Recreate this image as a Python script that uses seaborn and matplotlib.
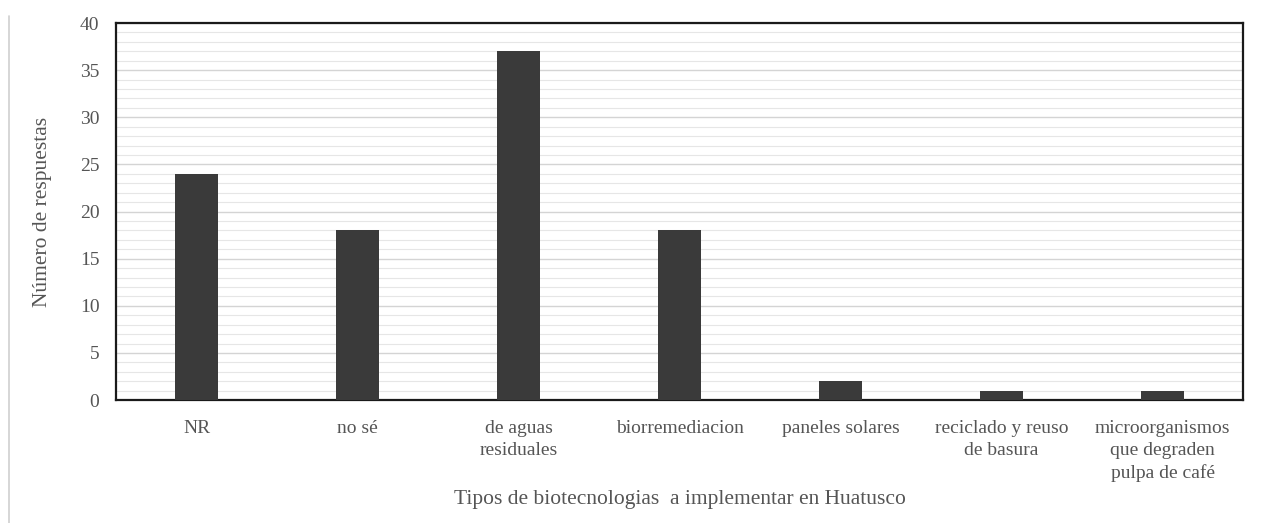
import numpy as np
import pandas as pd
import seaborn as sns
import matplotlib.pyplot as plt
from matplotlib.lines import Line2D
from matplotlib.ticker import MultipleLocator

categorias = ['NR', 'no sé', 'de aguas\nresiduales', 'biorremediacion',
              'paneles solares', 'reciclado y reuso\nde basura',
              'microorganismos\nque degraden\npulpa de café']
respuestas = [24, 18, 37, 18, 2, 1, 1]

sns.set_theme(style='white')
plt.rcParams['font.family'] = ['Liberation Serif', 'DejaVu Serif']

df = pd.DataFrame({'Tipo': categorias, 'Respuestas': respuestas})

fig, ax = plt.subplots(figsize=(12.64, 5.23), dpi=100)
fig.subplots_adjust(left=0.0918, right=0.9834, top=0.956, bottom=0.235)

sns.barplot(data=df, x='Tipo', y='Respuestas', color='#3a3a3a',
            width=0.27, saturation=1, linewidth=0, ax=ax, zorder=3)

ax.set_ylim(0, 40)
ax.yaxis.set_major_locator(MultipleLocator(5))
ax.yaxis.set_minor_locator(MultipleLocator(1))
ax.grid(which='major', axis='y', color='#d4d4d4', linewidth=1.0, zorder=0)
ax.grid(which='minor', axis='y', color='#e6e6e6', linewidth=0.8, zorder=0)
ax.set_axisbelow(True)

for s in ax.spines.values():
    s.set_visible(True)
    s.set_color('#1a1a1a')
    s.set_linewidth(1.6)

ax.tick_params(axis='both', which='both', length=0, labelsize=14,
               labelcolor='#555555')
ax.tick_params(axis='x', pad=14)
ax.tick_params(axis='y', pad=12)
for lab in ax.get_xticklabels():
    lab.set_linespacing(1.4)
ax.set_xlabel('Tipos de biotecnologias  a implementar en Huatusco',
              fontsize=15.5, color='#555555', labelpad=6)
ax.set_ylabel('Número de respuestas', fontsize=15.5, color='#555555',
              labelpad=20)

fig.add_artist(Line2D([0.007, 0.007], [0.0, 0.97], transform=fig.transFigure,
                      color='#d0d0d0', linewidth=1.2))

fig.savefig('out.png', dpi=100)
